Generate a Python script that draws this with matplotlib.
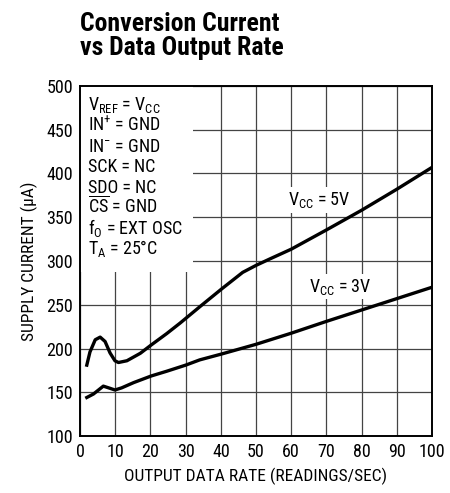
import matplotlib
matplotlib.use("Agg")
import matplotlib.pyplot as plt
from matplotlib import font_manager
from matplotlib.patches import Rectangle

# readings/sec vs supply current (uA)
rate_5v = [1.9, 2.8, 4.3, 5.7, 7.1, 8.5, 9.9, 10.9, 13.3, 17.1, 20.2, 24.6, 28.4,
           34.1, 40.2, 46.2, 50, 54, 60, 70, 80, 85, 90, 100]
curr_5v = [181, 196, 210, 213, 208, 195, 186, 184, 186, 194.5, 204, 217, 229,
           248, 268, 287, 295, 302.5, 313.5, 335.5, 358, 370, 382, 407]

rate_3v = [1.9, 3.8, 6.6, 8.5, 9.9, 11.8, 15.2, 20.2, 24.6, 30, 34, 40.2, 50,
           60, 70, 80, 90, 100]
curr_3v = [144, 148, 157, 154.5, 152.6, 155, 161, 168.6, 174, 181, 187, 193.7, 204.8,
           217.5, 231, 244, 257, 270]

x_ticks = list(range(0, 101, 10))
y_ticks = list(range(100, 501, 50))

conditions = [
    r"$\mathregular{V_{REF}}$ = $\mathregular{V_{CC}}$",
    r"$\mathregular{IN^{+}}$ = GND",
    r"$\mathregular{IN^{-}}$ = GND",
    "SCK = NC",
    "SDO = NC",
    r"$\mathregular{\overline{CS}}$ = GND",
    r"$\mathregular{f_O}$ = EXT OSC",
    r"$\mathregular{T_A}$ = 25°C",
]

names = {f.name for f in font_manager.fontManager.ttflist}
narrow = "DejaVu Sans"
for cand in ["Liberation Sans Narrow", "Nimbus Sans Narrow", "Arial Narrow",
             "Roboto Condensed", "Archivo Narrow", "PT Sans Narrow"]:
    if cand in names:
        narrow = cand
        break
plt.rcParams["font.family"] = [narrow, "DejaVu Sans"]
plt.rcParams["mathtext.fontset"] = "custom"
plt.rcParams["mathtext.rm"] = narrow
plt.rcParams["mathtext.it"] = narrow

fig = plt.figure(figsize=(4.5, 4.93), dpi=100)
ax = fig.add_axes([0.178, 0.1156, 0.782, 0.71])

ax.plot(rate_5v, curr_5v, color="black", lw=2.4, zorder=3)
ax.plot(rate_3v, curr_3v, color="black", lw=2.4, zorder=3)

ax.set_xlim(0, 100)
ax.set_ylim(100, 500)
ax.set_xticks(x_ticks)
ax.set_yticks(y_ticks)
ax.tick_params(length=0, labelsize=13, pad=5)
ax.grid(True, color="#444444", lw=0.9)
ax.set_axisbelow(True)
for s in ax.spines.values():
    s.set_linewidth(1.4)
    s.set_zorder(4)

ax.set_xlabel("OUTPUT DATA RATE (READINGS/SEC)", fontsize=12.5, labelpad=5)
ax.set_ylabel("SUPPLY CURRENT (µA)", fontsize=12.5, labelpad=6)

# condition block, white behind so the grid is hidden
ax.add_patch(Rectangle((0, 0.4675), 0.321, 0.5325, transform=ax.transAxes,
                       facecolor="white", edgecolor="none", zorder=1))
for i, line in enumerate(conditions):
    ax.text(2.3, 472 - i * 23.5, line, fontsize=13, va="baseline", ha="left", zorder=2)

ax.text(59, 364, r"$\mathregular{V_{CC}}$ = 5V", fontsize=13, va="baseline", zorder=2,
        bbox=dict(facecolor="white", edgecolor="none", pad=2))
ax.text(65, 265, r"$\mathregular{V_{CC}}$ = 3V", fontsize=13, va="baseline", zorder=2,
        bbox=dict(facecolor="white", edgecolor="none", pad=2))

fig.text(0.178, 0.975, "Conversion Current\nvs Data Output Rate", fontsize=18.5,
         fontweight="bold", va="top", ha="left", linespacing=1.0)

fig.savefig("out.png", dpi=100)
